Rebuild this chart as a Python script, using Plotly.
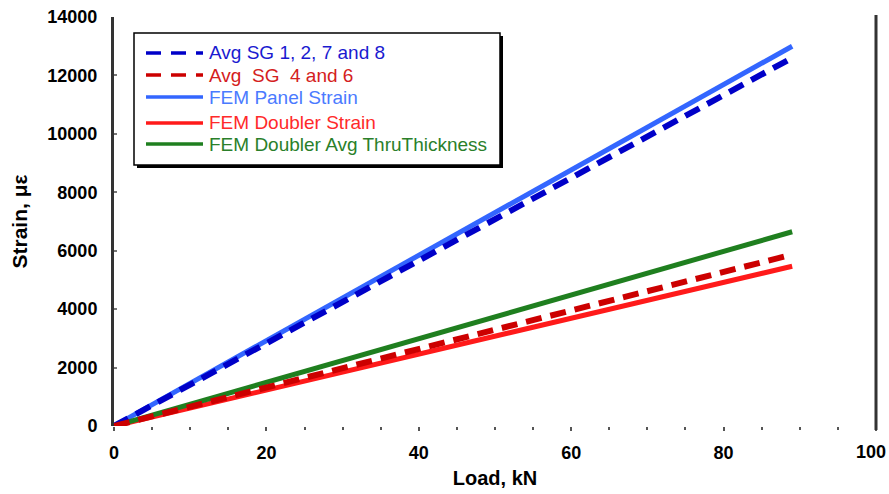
import plotly.graph_objects as go

# ---- data ----
load_kn = [0, 10, 20, 30, 40, 50, 60, 70, 80, 89]
fem_panel = [0, 1460, 2920, 4380, 5840, 7300, 8760, 10220, 11680, 13000]
avg_sg_1278 = [0, 1410, 2830, 4250, 5660, 7080, 8500, 9910, 11330, 12600]
load_kn_sg46 = [0, 10, 20, 30, 40, 50, 60, 70, 80, 88]
avg_sg_46 = [0, 660, 1320, 1980, 2640, 3290, 3950, 4610, 5270, 5800]
fem_doubler = [0, 610, 1230, 1840, 2460, 3070, 3690, 4300, 4920, 5470]
fem_doubler_avg = [0, 750, 1490, 2240, 2990, 3740, 4480, 5230, 5980, 6650]

x_ticks = [0, 20, 40, 60, 80, 100]
y_ticks = [0, 2000, 4000, 6000, 8000, 10000, 12000, 14000]

series = [
    dict(name="Avg SG 1, 2, 7 and 8", x=load_kn, y=avg_sg_1278, color="#0000c8", text="#1a1ad0", dash="16px,9px", width=6),
    dict(name="Avg  SG  4 and 6", x=load_kn_sg46, y=avg_sg_46, color="#cc0000", text="#d42020", dash="16px,9px", width=6),
    dict(name="FEM Panel Strain", x=load_kn, y=fem_panel, color="#3366ff", text="#4a7aff", dash="solid", width=5),
    dict(name="FEM Doubler Strain", x=load_kn, y=fem_doubler, color="#ff1a1a", text="#ff2a2a", dash="solid", width=5),
    dict(name="FEM Doubler Avg ThruThickness", x=load_kn, y=fem_doubler_avg, color="#1f7f1f", text="#2a7f2a", dash="solid", width=5),
]

W, H = 889, 494
L, R, T, B = 114, 13, 17, 68
PW, PH = W - L - R, H - T - B
FONT = "Liberation Sans, Arial"

def px(x):
    return (x - L) / PW

def py(y):
    return (H - B - y) / PH

fig = go.Figure()
draw_order = [2, 3, 4, 0, 1]
for i in draw_order:
    s = series[i]
    fig.add_trace(go.Scatter(
        x=s["x"], y=s["y"], mode="lines", name=s["name"], showlegend=False,
        line=dict(color=s["color"], width=s["width"], dash=s["dash"]),
    ))

shapes = []
annotations = []
# legend box with shadow
shapes.append(dict(type="rect", xref="paper", yref="paper", x0=px(137), x1=px(503), y0=py(36), y1=py(168),
                   fillcolor="black", line=dict(width=0), layer="above"))
shapes.append(dict(type="rect", xref="paper", yref="paper", x0=px(134), x1=px(500), y0=py(33), y1=py(165),
                   fillcolor="white", line=dict(color="black", width=1.5), layer="above"))
rows = [53, 75, 97, 123, 144]
for s, ry in zip(series, rows):
    shapes.append(dict(type="line", xref="paper", yref="paper", x0=px(146), x1=px(203), y0=py(ry), y1=py(ry),
                       line=dict(color=s["color"], width=3.5, dash=("15px,10px" if s["dash"] != "solid" else "solid")),
                       layer="above"))
    annotations.append(dict(xref="paper", yref="paper", x=px(207), y=py(ry), text=s["name"].replace("  ", "&nbsp;&nbsp;"),
                            showarrow=False, xanchor="left", yanchor="middle",
                            font=dict(family=FONT, size=19, color=s["text"])))

# last x tick label kept inside the page edge
x_tick_text = [str(v) for v in x_ticks]
last_label = x_tick_text[-1]
x_tick_text[-1] = ""
annotations.append(dict(xref="paper", yref="paper", x=px(888), y=py(452), text=f"<b>{last_label}</b>",
                        showarrow=False, xanchor="right", yanchor="middle",
                        font=dict(family=FONT, size=18, color="black")))

# right axis line
shapes.append(dict(type="line", xref="paper", yref="paper", x0=1, x1=1, y0=py(430), y1=py(15),
                   line=dict(color="#333333", width=3)))

fig.update_layout(
    width=W, height=H,
    margin=dict(l=L, r=R, t=T, b=B, autoexpand=False),
    paper_bgcolor="white", plot_bgcolor="white",
    shapes=shapes, annotations=annotations,
    font=dict(family=FONT, color="black"),
    xaxis=dict(
        range=[0, 100.001], tickvals=x_ticks, ticktext=x_tick_text,
        showgrid=False, zeroline=False, showline=False, automargin=False,
        ticks="outside", ticklen=4, tickwidth=2, tickcolor="#555555",
        minor=dict(dtick=5, ticks="outside", ticklen=3, tickwidth=2, tickcolor="#555555"),
        ticklabelstandoff=6,
        tickfont=dict(size=18, family=FONT, color="black", weight="bold"),
        title=dict(text="<b>Load, kN</b>", font=dict(size=20), standoff=9),
    ),
    yaxis=dict(
        range=[0, 14000], tickvals=y_ticks, ticktext=[str(v) for v in y_ticks],
        showgrid=False, zeroline=False, showline=True, linewidth=3, linecolor="#333333",
        ticks="inside", ticklen=3, tickwidth=2, tickcolor="#777777", automargin=False,
        ticklabelstandoff=10,
        tickfont=dict(size=18, family=FONT, color="black", weight="bold"),
        title=dict(text="<b>Strain, με</b>", font=dict(size=21), standoff=14),
    ),
)

fig.write_html("out.html")
